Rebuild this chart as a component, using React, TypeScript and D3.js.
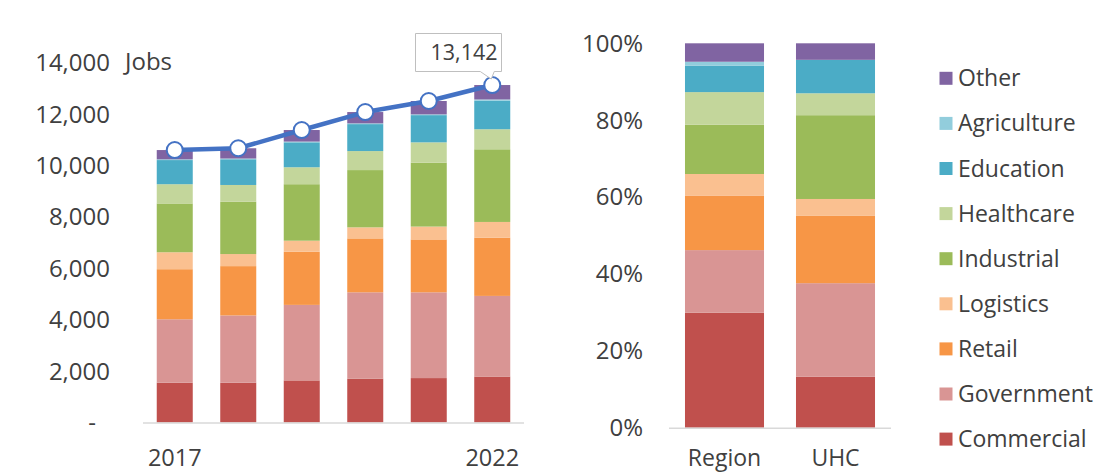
import React from "react";
import * as d3 from "d3";

const years = ["2017", "2018", "2019", "2020", "2021", "2022"];
const sectors = ["Commercial", "Government", "Retail", "Logistics", "Industrial", "Healthcare", "Education", "Agriculture", "Other"];
const sectorColors = ["#C0504D", "#D99594", "#F79646", "#FAC090", "#9BBB59", "#C3D69B", "#4BACC6", "#92CDDC", "#8064A2"];

const commercial = [1550, 1550, 1640, 1710, 1730, 1790];
const government = [2470, 2620, 2940, 3360, 3340, 3140];
const retail = [1950, 1920, 2070, 2100, 2060, 2270];
const logistics = [660, 470, 430, 430, 500, 610];
const industrial = [1900, 2040, 2200, 2230, 2490, 2830];
const healthcare = [750, 650, 660, 740, 790, 780];
const education = [940, 1000, 970, 1050, 1060, 1110];
const agriculture = [30, 30, 30, 30, 30, 50];
const other = [360, 400, 450, 440, 520, 562];
const totalJobs = [10610, 10680, 11390, 12090, 12520, 13142];

const shareGroups = ["Region", "UHC"];
const regionShare = [29.9, 16.3, 14.1, 5.7, 12.8, 8.5, 6.9, 1.0, 4.8];
const uhcShare = [13.3, 24.3, 17.5, 4.4, 21.8, 5.7, 8.7, 0, 4.3];

const jobTicks = [0, 2000, 4000, 6000, 8000, 10000, 12000, 14000];
const pctTicks = [0, 20, 40, 60, 80, 100];
const legendOrder = ["Other", "Agriculture", "Education", "Healthcare", "Industrial", "Logistics", "Retail", "Government", "Commercial"];

const FONT = "'Open Sans', 'Noto Sans', sans-serif";
const TEXT = "#404040";

export default function App() {
  const seriesArrays = [commercial, government, retail, logistics, industrial, healthcare, education, agriculture, other];
  const leftRows = years.map((y, i) => {
    const r: any = { year: y };
    sectors.forEach((s, k) => (r[s] = seriesArrays[k][i]));
    return r;
  });
  const leftStack = d3.stack().keys(sectors)(leftRows as any);

  const x = d3.scaleBand().domain(years).range([143, 524]).paddingInner(0.433).paddingOuter(0.2165);
  const y = d3.scaleLinear().domain([0, 14000]).range([422.5, 63]);

  const rightRows = shareGroups.map((g, i) => {
    const src = i === 0 ? regionShare : uhcShare;
    const r: any = { group: g };
    sectors.forEach((s, k) => (r[s] = src[k]));
    return r;
  });
  const rightStack = d3.stack().keys(sectors)(rightRows as any);
  const x2 = d3.scaleBand().domain(shareGroups).range([669, 891]).paddingInner(0.288).paddingOuter(0.144);
  const y2 = d3.scaleLinear().domain([0, 100]).range([427.7, 43.3]);

  const line = d3
    .line<number>()
    .x((_, i) => (x(years[i]) as number) + x.bandwidth() / 2)
    .y((d) => y(d));

  const fmt = d3.format(",");
  const lastIdx = years.length - 1;
  const lx = (x(years[lastIdx]) as number) + x.bandwidth() / 2;
  const ly = y(totalJobs[lastIdx]);
  const box = { x0: 415.5, x1: 501.5, y0: 33.5, y1: 71.5 };
  const calloutPath = `M${box.x0},${box.y0} H${box.x1} V${box.y1} H${lx + 2} L${lx - 1},${ly - 6} L${lx - 12},${box.y1} H${box.x0} Z`;

  return (
    <svg width={1098} height={474} style={{ position: "absolute", left: 0, top: 0, background: "#fff" }} fontFamily={FONT}>
      {/* Left chart */}
      {jobTicks.map((t) => (
        <text key={t} x={t === 0 ? 96 : 110} y={y(t)} dy="0.35em" textAnchor="end" fontSize={24} fill={TEXT}>
          {t === 0 ? "-" : fmt(t)}
        </text>
      ))}
      <text x={125} y={y(14000)} dy="0.3em" fontSize={24} fill={TEXT}>Jobs</text>
      {leftStack.map((layer, k) => (
        <g key={sectors[k]} fill={sectorColors[k]}>
          {layer.map((d, i) => (
            <rect key={i} x={x(years[i])} y={y(d[1])} width={x.bandwidth()} height={Math.max(0, y(d[0]) - y(d[1]))} />
          ))}
        </g>
      ))}
      <line x1={143} x2={524} y1={y(0) + 0.5} y2={y(0) + 0.5} stroke="#D9D9D9" strokeWidth={1.5} />
      {years.map((yr, i) =>
        i === 0 || i === lastIdx ? (
          <text key={yr} x={(x(yr) as number) + x.bandwidth() / 2} y={458} dy="0.35em" textAnchor="middle" fontSize={23.5} fill={TEXT}>
            {yr}
          </text>
        ) : null
      )}
      <path d={line(totalJobs) || ""} fill="none" stroke="#4472C4" strokeWidth={4.5} strokeLinejoin="round" />
      {totalJobs.map((v, i) => (
        <circle key={i} cx={(x(years[i]) as number) + x.bandwidth() / 2} cy={y(v)} r={8} fill="#fff" stroke="#4472C4" strokeWidth={2} />
      ))}
      <path d={calloutPath} fill="#fff" stroke="#BFBFBF" strokeWidth={1} />
      <text x={464} y={52.5} dy="0.35em" textAnchor="middle" fontSize={21.5} fill={TEXT}>
        {fmt(totalJobs[lastIdx])}
      </text>

      {/* Right chart */}
      {pctTicks.map((t) => (
        <text key={t} x={643} y={y2(t)} dy="0.35em" textAnchor="end" fontSize={24} fill={TEXT}>
          {t + "%"}
        </text>
      ))}
      {rightStack.map((layer, k) => (
        <g key={sectors[k]} fill={sectorColors[k]}>
          {layer.map((d, i) => (
            <rect key={i} x={x2(shareGroups[i])} y={y2(d[1])} width={x2.bandwidth()} height={Math.max(0, y2(d[0]) - y2(d[1]))} />
          ))}
        </g>
      ))}
      <line x1={669} x2={891} y1={y2(0) + 0.5} y2={y2(0) + 0.5} stroke="#D9D9D9" strokeWidth={1.5} />
      {shareGroups.map((g) => (
        <text key={g} x={(x2(g) as number) + x2.bandwidth() / 2} y={458} dy="0.35em" textAnchor="middle" fontSize={23} fill={TEXT}>
          {g}
        </text>
      ))}

      {/* Legend */}
      {legendOrder.map((name, i) => {
        const k = sectors.indexOf(name);
        const cy = 78.3 + i * 45.1;
        return (
          <g key={name}>
            <rect x={939.5} y={cy - 6.5} width={13} height={13} fill={sectorColors[k]} />
            <text x={958} y={cy} dy="0.35em" fontSize={23} fill={TEXT}>
              {name}
            </text>
          </g>
        );
      })}
    </svg>
  );
}
